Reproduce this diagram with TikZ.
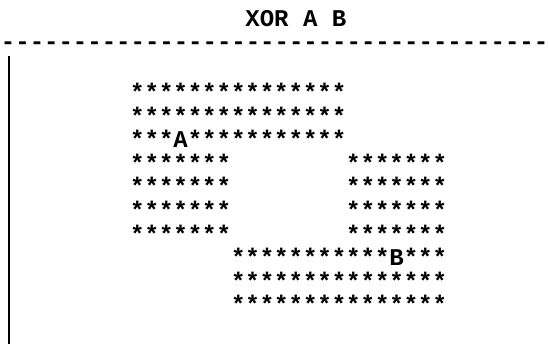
\documentclass[tikz,border=0pt]{standalone}
\usepackage{fontspec}
\setmonofont{Liberation Mono}
\usepackage{tikz}
\usetikzlibrary{positioning}

\begin{document}
\begin{tikzpicture}[x=1pt, y=-1pt,
  art/.style={anchor=base west, inner sep=0pt,
              font=\ttfamily\bfseries\fontsize{24}{24}\selectfont},
  bar/.style={line width=2.6pt}
]
\useasboundingbox (0,0) rectangle (548,352);
\node[art] (title) at (245.2, 27) {XOR A B};
\node[art] (rule)  at (0.8, 50) {--------------------------------------};
\coordinate (bartop) at (9, 56);
\coordinate (barbot) at (9, 344);
\draw[bar] (bartop) -- (barbot);
% upper block A
\node[art] (a1) at (130, 100.5) {***************};
\node[art] (a2) at (130, 124.1) {***************};
\node[art] (a3) at (130, 147.7) {***A***********};
% overlap rows
\node[art] (l4) at (130, 171.3) {*******};
\node[art] (r4) at (346, 171.3) {*******};
\node[art] (l5) at (130, 194.9) {*******};
\node[art] (r5) at (346, 194.9) {*******};
\node[art] (l6) at (130, 218.5) {*******};
\node[art] (r6) at (346, 218.5) {*******};
\node[art] (l7) at (130, 242.1) {*******};
\node[art] (r7) at (346, 242.1) {*******};
% lower block B
\node[art] (b1) at (230.8, 265.7) {***********B***};
\node[art] (b2) at (230.8, 289.3) {***************};
\node[art] (b3) at (230.8, 312.9) {***************};
\end{tikzpicture}
\end{document}
